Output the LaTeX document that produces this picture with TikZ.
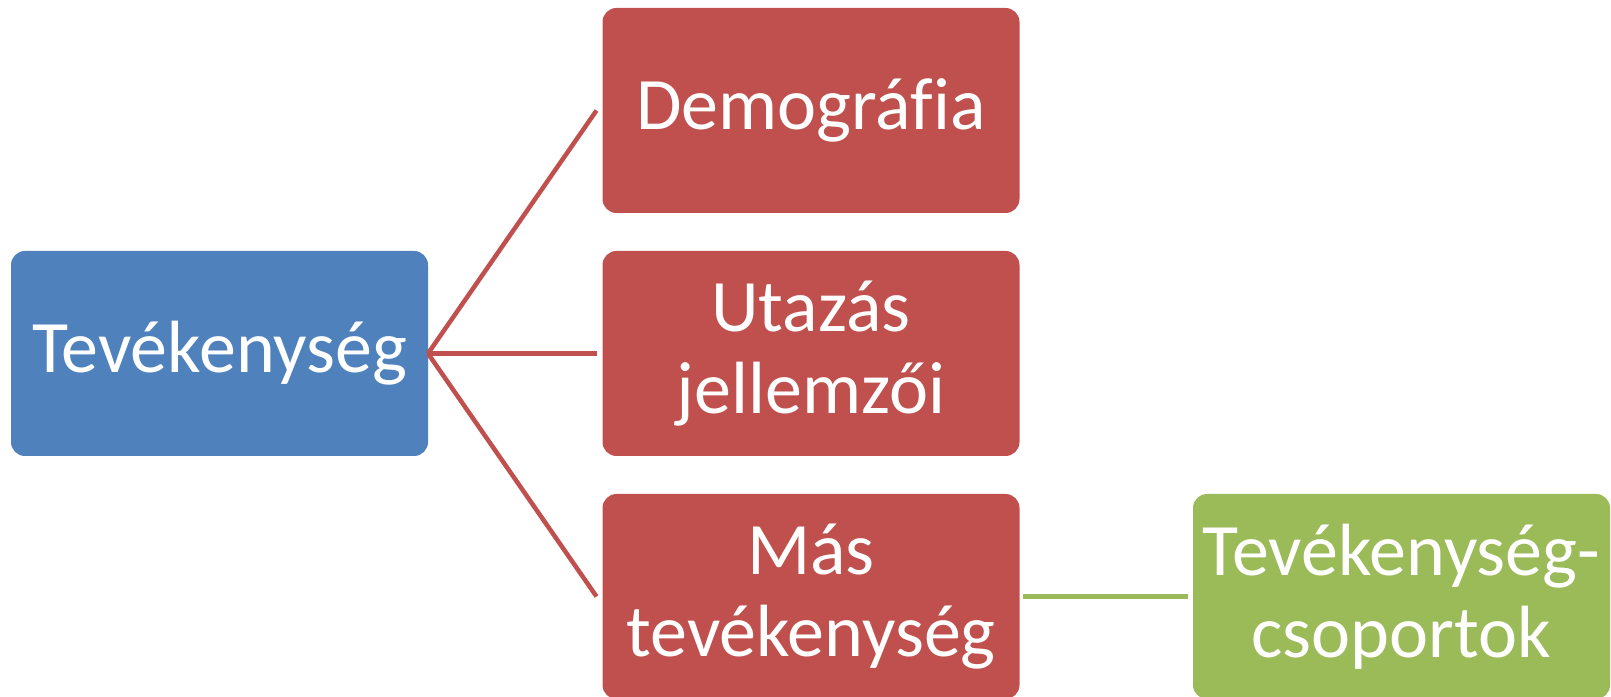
\documentclass[tikz,border=0pt]{standalone}
\usepackage{fontspec}
\setmainfont[Ligatures=NoCommon]{Carlito}
\definecolor{cblue}{HTML}{4F81BD}
\definecolor{cred}{HTML}{C0504D}
\definecolor{cgreen}{HTML}{9BBB59}
\begin{document}
\begin{tikzpicture}[x=1pt,y=1pt,
  boxstyle/.style={rectangle, rounded corners=14pt, minimum width=417pt, minimum height=205pt,
    inner sep=0pt, outer sep=0pt, text=white, align=center,
    font=\fontsize{74}{82}\selectfont},
  redline/.style={draw=cred, line width=4.5pt},
  greenline/.style={draw=cgreen, line width=4.5pt}]
\useasboundingbox (0,0) rectangle (1611,696);
\node[boxstyle, fill=cblue] (t) at (219.5,342.5) {Tevékenység};
\node[boxstyle, fill=cred] (r1) at (811,585.5) {Demográfia};
\node[boxstyle, fill=cred] (r2) at (811,342.5) {Utazás\\jellemzői};
\node[boxstyle, fill=cred] (r3) at (811,99.5) {Más\\tevékenység};
\node[boxstyle, fill=cgreen] (g) at (1401.5,99.5) {Tevékenység-\\csoportok};
\draw[redline] (t.east) -- ([xshift=-6pt]r1.west);
\draw[redline] (t.east) -- ([xshift=-6pt]r2.west);
\draw[redline] (t.east) -- ([xshift=-6pt]r3.west);
\draw[greenline] ([xshift=3pt]r3.east) -- ([xshift=-5pt]g.west);
\end{tikzpicture}
\end{document}
